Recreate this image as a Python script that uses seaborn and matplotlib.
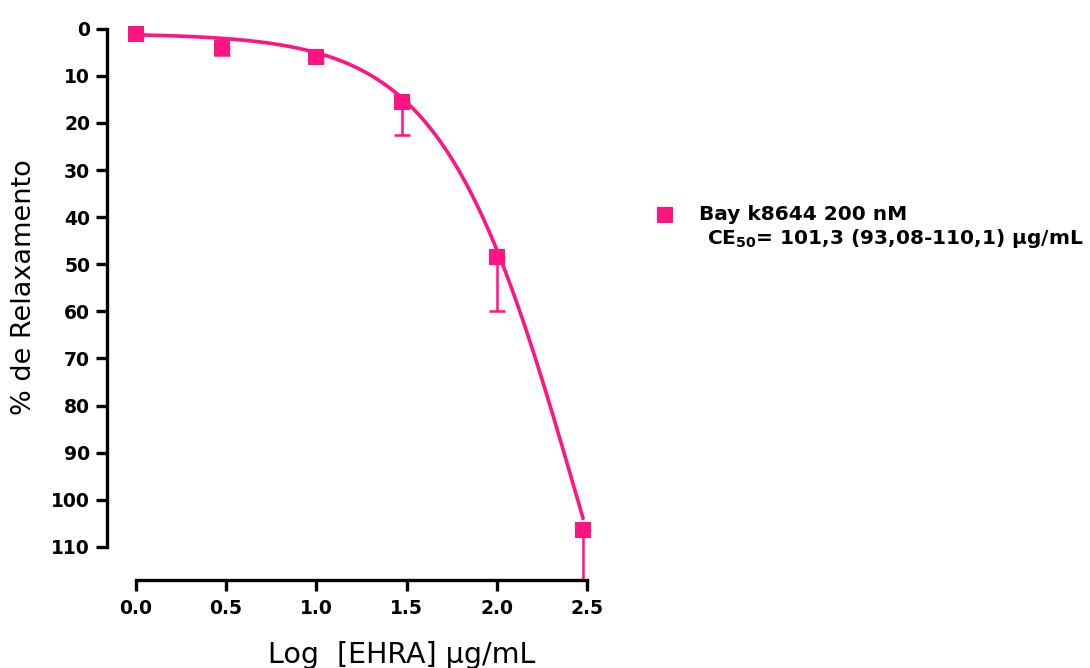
import numpy as np
import pandas as pd
import matplotlib
matplotlib.use("Agg")
import matplotlib.pyplot as plt
import seaborn as sns

# ---- data ----
log_conc = [0.0, 0.477, 1.0, 1.477, 2.0, 2.477]          # Log [EHRA] ug/mL
relax = [1.0, 4.0, 6.0, 15.5, 48.5, 106.5]                 # % de Relaxamento (mean)
sem = [0.0, 1.5, 1.0, 7.0, 11.5, 14.0]                     # error (drawn downward)

# fitted sigmoidal (Hill) curve parameters, estimated from the drawn fit line
fit_bottom = 1.0
fit_top = 200.0
fit_logec50 = 2.451
fit_hill = 1.158

x_ticks = [0.0, 0.5, 1.0, 1.5, 2.0, 2.5]
y_ticks = [0, 10, 20, 30, 40, 50, 60, 70, 80, 90, 100, 110]

series_label = "Bay k8644 200 nM"
ec50_label = r"CE$\mathregular{_{50}}$= 101,3 (93,08-110,1) µg/mL"

color = "#FF1482"

sns.set_theme(style="white")
plt.rcParams["font.family"] = ["DejaVu Sans"]
plt.rcParams["mathtext.fontset"] = "custom"
plt.rcParams["mathtext.rm"] = "DejaVu Sans:bold"
plt.rcParams["mathtext.it"] = "DejaVu Sans:bold"
plt.rcParams["mathtext.bf"] = "DejaVu Sans:bold"

fig = plt.figure(figsize=(10.9, 6.68), dpi=100)
ax = fig.add_axes([0.098, 0.132, 0.449, 0.839])

df = pd.DataFrame({"x": log_conc, "y": relax})
xs = np.linspace(min(log_conc), max(log_conc), 300)
curve = pd.DataFrame({
    "x": xs,
    "y": fit_bottom + (fit_top - fit_bottom) / (1 + 10 ** ((fit_logec50 - xs) * fit_hill)),
})

# error bars (downward only in data space)
ax.errorbar(log_conc, relax, yerr=[np.zeros(len(sem)), sem], fmt="none",
            ecolor=color, elinewidth=1.8, capsize=6, capthick=1.8, zorder=2)
sns.lineplot(data=curve, x="x", y="y", ax=ax, color=color, linewidth=2.6, zorder=3)
sns.scatterplot(data=df, x="x", y="y", ax=ax, marker="s", s=120, color=color,
                linewidth=0, zorder=4, label=series_label)

ax.set_xlim(-0.16, 2.55)
ax.set_ylim(117, -2)

for side in ["top", "right"]:
    ax.spines[side].set_visible(False)
for side in ["left", "bottom"]:
    ax.spines[side].set_linewidth(2.4)
    ax.spines[side].set_color("black")
ax.spines["left"].set_bounds(0, 110)
ax.spines["bottom"].set_bounds(0, 2.5)

ax.set_xticks(x_ticks)
ax.set_xticklabels([f"{v:.1f}" for v in x_ticks])
ax.set_yticks(y_ticks)
ax.set_yticklabels([str(v) for v in y_ticks])
ax.tick_params(axis="both", which="major", direction="out", length=8, width=2.4,
               color="black", labelsize=13.5, labelcolor="black", left=True, bottom=True)
ax.tick_params(axis="y", pad=4)
ax.tick_params(axis="x", pad=6)
for lbl in ax.get_xticklabels() + ax.get_yticklabels():
    lbl.set_fontweight("bold")

ax.set_xlabel("Log  [EHRA] µg/mL", fontsize=20.5, color="black")
ax.set_ylabel("% de Relaxamento", fontsize=19.5, color="black")
ax.xaxis.set_label_coords(0.602, -0.109)
ax.yaxis.set_label_coords(-0.143, 0.523)

leg = ax.legend(loc="center left", bbox_to_anchor=(655 / 1090, 1 - 215 / 668),
                bbox_transform=fig.transFigure, frameon=False, fontsize=14.5,
                handlelength=1.0, handletextpad=1.2, borderaxespad=0, borderpad=0,
                markerscale=1.0)
for t in leg.get_texts():
    t.set_fontweight("bold")
    t.set_color("black")
fig.text(707 / 1090, 1 - 238 / 668, ec50_label, fontsize=14.5, fontweight="bold",
         color="black", va="center", ha="left")

fig.savefig("out.png", dpi=100)
